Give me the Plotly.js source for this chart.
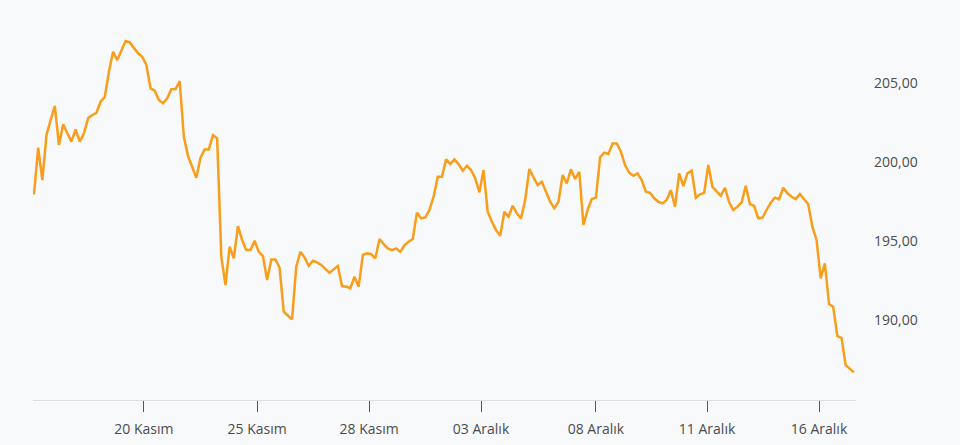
<!DOCTYPE html>
<html>
<head>
<meta charset="utf-8">
<script src="https://cdn.plot.ly/plotly-3.0.1.min.js"></script>
<style>
html,body{margin:0;padding:0;background:#f8f9fb;}
#chart{width:960px;height:445px;}
</style>
</head>
<body>
<div id="chart"></div>
<script>
// Price series (one value per sample)
var prices = [
197.97,200.93,198.88,201.73,202.68,203.57,201.10,202.41,201.84,201.31,
202.09,201.31,201.84,202.79,203.00,203.14,203.84,204.14,205.74,207.01,
206.48,207.07,207.69,207.60,207.26,206.91,206.69,206.17,204.69,204.54,
203.95,203.74,204.06,204.63,204.65,205.15,201.62,200.40,199.72,199.02,
200.29,200.82,200.82,201.73,201.52,194.02,192.22,194.65,193.92,195.96,
195.08,194.44,194.44,195.03,194.33,194.06,192.54,193.85,193.85,193.32,
190.53,190.32,190.05,193.38,194.33,193.97,193.43,193.76,193.66,193.49,
193.22,193.00,193.22,193.43,192.16,192.12,192.02,192.75,192.12,194.13,
194.23,194.19,193.92,195.14,194.82,194.55,194.44,194.55,194.33,194.76,
194.97,195.14,196.81,196.45,196.51,196.98,197.82,199.09,199.09,200.19,
199.89,200.19,199.89,199.47,199.78,199.51,198.99,198.10,199.51,196.87,
196.24,195.71,195.35,196.87,196.55,197.25,196.77,196.45,197.61,199.58,
199.05,198.56,198.77,198.14,197.50,197.09,197.50,199.20,198.67,199.56,
198.94,199.40,196.03,196.98,197.67,197.76,200.32,200.61,200.53,201.20,
201.20,200.67,199.83,199.34,199.15,199.30,198.88,198.14,198.07,197.72,
197.50,197.40,197.61,198.24,197.19,199.30,198.50,199.30,199.47,197.76,
197.97,198.07,199.83,198.45,198.14,197.88,198.39,197.47,196.98,197.19,
197.47,198.52,197.34,197.25,196.45,196.49,196.98,197.44,197.76,197.66,
198.39,198.04,197.82,197.67,197.99,197.66,197.34,195.92,195.08,192.65,
193.60,191.02,190.85,188.99,188.88,187.15,186.90,186.69
];
var sampleIndex = prices.map(function(_, i){ return i; });

// Date tick labels and the sample position where each date begins
var tickLabels = ["20 Kasım","25 Kasım","28 Kasım","03 Aralık","08 Aralık","11 Aralık","16 Aralık"];
var tickIndex  = [26.4, 53.6, 80.5, 107.4, 135.0, 161.7, 188.6];

var yTicks = [190, 195, 200, 205];

var trace = {
  x: sampleIndex,
  y: prices,
  type: 'scatter',
  mode: 'lines',
  line: {color: '#f89e1a', width: 2.5, shape: 'linear'},
  hoverinfo: 'y'
};

var layout = {
  width: 960,
  height: 445,
  margin: {l: 33, r: 104, t: 20, b: 45},
  paper_bgcolor: '#f8f9fb',
  plot_bgcolor: '#f8f9fb',
  separators: ',.',
  showlegend: false,
  font: {family: '"Open Sans", "Noto Sans", sans-serif', size: 14, color: '#4a4c50'},
  xaxis: {
    range: [-0.24, 197.48],
    tickmode: 'array',
    tickvals: tickIndex,
    ticktext: tickLabels,
    showgrid: false,
    zeroline: false,
    showline: true,
    linecolor: '#dcdde0',
    linewidth: 1,
    ticks: 'outside',
    ticklen: 11,
    tickwidth: 1,
    tickcolor: '#55575b',
    ticklabelstandoff: 5,
    fixedrange: true
  },
  yaxis: {
    side: 'right',
    range: [184.94, 209.02],
    tickmode: 'array',
    tickvals: yTicks,
    tickformat: '.2f',
    showgrid: false,
    zeroline: false,
    showline: false,
    ticks: '',
    ticklabelstandoff: 17,
    fixedrange: true
  }
};

Plotly.newPlot('chart', [trace], layout, {displayModeBar: false, staticPlot: true});
</script>
</body>
</html>
